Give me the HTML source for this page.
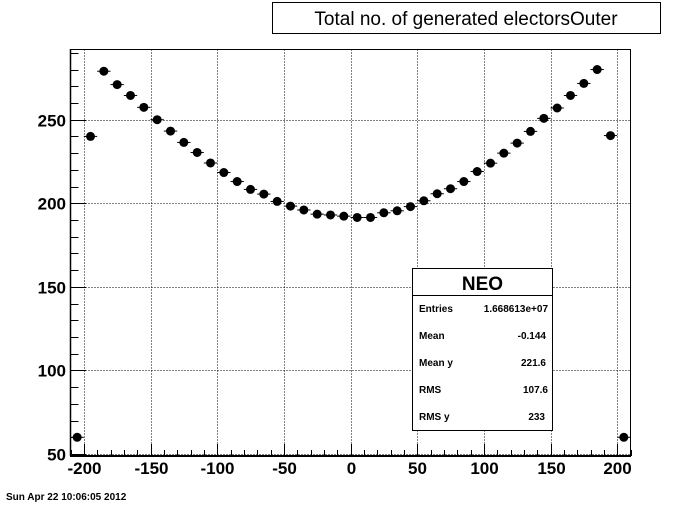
<!DOCTYPE html>
<html><head><meta charset="utf-8"><style>
html,body{margin:0;padding:0;background:#fff;}
svg{display:block;font-family:"Liberation Sans",Arial,sans-serif;}
</style></head><body>
<svg id="chart" width="700" height="507" viewBox="0 0 700 507">
<rect x="0" y="0" width="700" height="507" fill="#fff"/>
<g id="grid"></g>
<g id="ticks"></g>
<g id="points"></g>
<rect x="70.5" y="49.5" width="560" height="406" fill="none" stroke="#000" stroke-width="1"/>
<line x1="70" y1="456" x2="631" y2="456" stroke="#000" stroke-width="2"/>
<line x1="70.5" y1="49" x2="70.5" y2="456" stroke="#000" stroke-width="1.5"/>
<g>
<rect x="272.5" y="2.5" width="388" height="31" fill="#fff" stroke="#000"/>
<text x="466" y="25" font-size="19" text-anchor="middle">Total no. of generated electorsOuter</text>
</g>
<g>
<rect x="412.5" y="268.5" width="140" height="162" fill="#fff" stroke="#000"/>
<line x1="412.5" y1="295.5" x2="552.5" y2="295.5" stroke="#000"/>
<text x="482.5" y="290" font-size="19" font-weight="bold" text-anchor="middle">NEO</text>
<g font-size="10" font-weight="bold">
<text x="419" y="312">Entries</text>
<text x="548" y="312" text-anchor="end">1.668613e+07</text>
<text x="419" y="339">Mean</text>
<text x="546" y="339" text-anchor="end">-0.144</text>
<text x="419" y="366">Mean y</text>
<text x="546" y="366" text-anchor="end">221.6</text>
<text x="419" y="393">RMS</text>
<text x="548" y="393" text-anchor="end">107.6</text>
<text x="419" y="420">RMS y</text>
<text x="545" y="420" text-anchor="end">233</text>
</g>
</g>
<text x="6" y="500" font-size="10" font-weight="bold">Sun Apr 22  10:06:05 2012</text>
</svg>
<script>
const binCenters=[-205,-195,-185,-175,-165,-155,-145,-135,-125,-115,-105,-95,-85,-75,-65,-55,-45,-35,-25,-15,-5,5,15,25,35,45,55,65,75,85,95,105,115,125,135,145,155,165,175,185,195,205];
const counts=[60,240,279,271,264.5,257.4,250,243.2,236.4,230.4,224.1,218.4,213,208.3,205.5,201.1,198.3,196,193.5,193,192.3,191.5,191.5,194.3,195.5,198,201.5,205.7,208.7,213,219,224,230,236,243,250.8,257,264.5,271.7,280,240.5,60];
const xTicks=[-200,-150,-100,-50,0,50,100,150,200];
const yTicks=[50,100,150,200,250];
const binWidth=10;
const X0=70.5,X1=630.5,Y0=455.5,Y1=49.5;
const xmin=-210,xmax=210,ymin=49.1,ymax=292;
const sx=v=>X0+(v-xmin)/(xmax-xmin)*(X1-X0);
const sy=v=>Y0-(v-ymin)/(ymax-ymin)*(Y0-Y1);
const NS="http://www.w3.org/2000/svg";
function mk(tag,attrs,parent){const e=document.createElementNS(NS,tag);for(const k in attrs)e.setAttribute(k,attrs[k]);parent.appendChild(e);return e;}
const grid=document.getElementById('grid'),ticks=document.getElementById('ticks'),pts=document.getElementById('points');
xTicks.forEach(t=>{
 const x=Math.round(sx(t))+0.5;
 const g=mk('line',{x1:x,y1:Y1,x2:x,y2:Y0,stroke:'#000','stroke-dasharray':'1,2'},grid);
 
 
 const tl=mk('line',{x1:x,y1:456,x2:x,y2:444,stroke:'#000'},ticks);
 
 
 const lb=mk('text',{x:x,y:474,'font-size':17,'font-weight':'bold','text-anchor':'middle'},ticks);
 lb.textContent=String(t);
 
 
});
for(let t=-210;t<=210;t+=10){
 if(t%50===0)continue;
 const x=Math.round(sx(t))+0.5;
 const tl=mk('line',{x1:x,y1:456,x2:x,y2:450,stroke:'#000'},ticks);
 
 
}
yTicks.forEach(t=>{
 const y=Math.round(sy(t))+0.5;
 const g=mk('line',{x1:X0,y1:y,x2:X1,y2:y,stroke:'#000','stroke-dasharray':'1,2'},grid);
 
 
 const tl=mk('line',{x1:X0,y1:y,x2:X0+16,y2:y,stroke:'#000'},ticks);
 
 
 const lb=mk('text',{x:66,y:y+6,'font-size':17,'font-weight':'bold','text-anchor':'end'},ticks);
 lb.textContent=String(t);
 
 
});
for(let t=60;t<=290;t+=10){
 if(t%50===0)continue;
 const y=Math.round(sy(t))+0.5;
 const tl=mk('line',{x1:X0,y1:y,x2:X0+8,y2:y,stroke:'#000'},ticks);
 
 
}
binCenters.forEach((c,i)=>{
 const x=sx(c),y=sy(counts[i]);
 const eb=mk('line',{x1:sx(c-binWidth/2),y1:y,x2:sx(c+binWidth/2),y2:y,stroke:'#000'},pts);
 
 
 const m=mk('circle',{cx:x,cy:y,r:4.5,fill:'#000'},pts);
 
 
});
</script>
</body></html>
